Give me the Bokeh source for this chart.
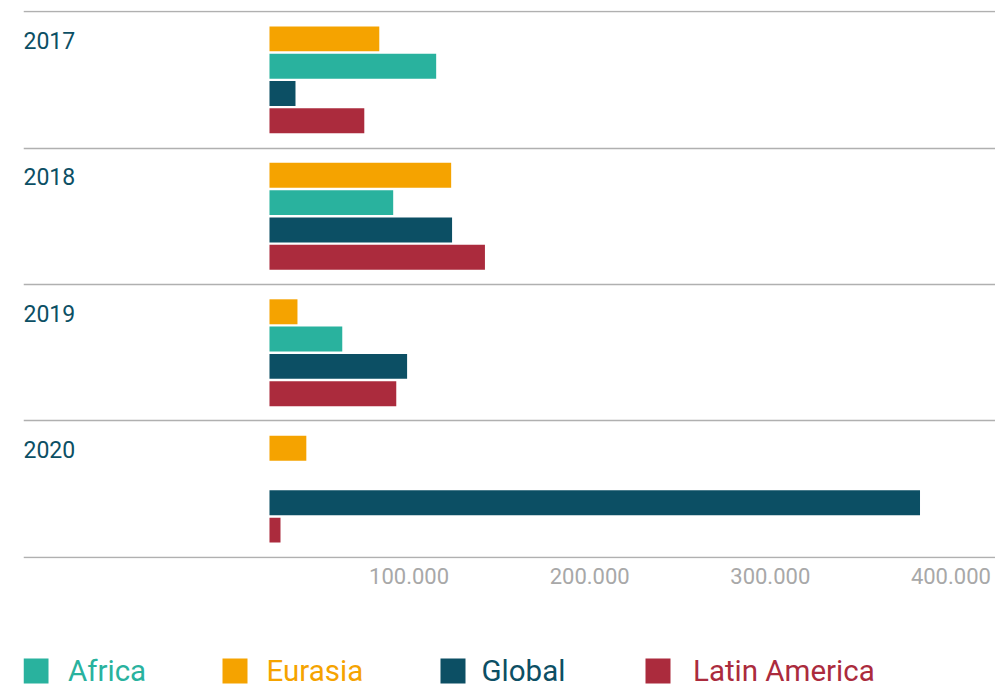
from bokeh.plotting import figure
from bokeh.models import (ColumnDataSource, Range1d, FixedTicker, CustomJSTickFormatter,
                          LinearAxis)
from bokeh.layouts import column
from bokeh.core.properties import value
from bokeh.embed import file_html
from bokeh.resources import INLINE

# ---- data ----
years = ["2017", "2018", "2019", "2020"]
series = ["Eurasia", "Africa", "Global", "Latin America"]   # top-to-bottom order within a year
eurasia = [60800, 100600, 15500, 20400]
africa = [92300, 68500, 40300, 0]
global_ = [14400, 101100, 76200, 360200]
latin = [52500, 119300, 70200, 6100]
tick_values = [100000, 200000, 300000, 400000]

colors = {"Africa": "#29b29e", "Eurasia": "#f5a300", "Global": "#0c4f64", "Latin America": "#ab2b3d"}
values = {"Eurasia": eurasia, "Africa": africa, "Global": global_, "Latin America": latin}
legend_order = ["Africa", "Eurasia", "Global", "Latin America"]

FONT = "Roboto"
X_START, X_END = -136200, 402000
LABEL_SHIFT = 22700   # tick labels sit left of their tick in the original

p = figure(width=995, height=640, output_backend="svg", toolbar_location=None,
           x_range=Range1d(X_START, X_END), y_range=Range1d(len(years) + 0.008, -0.008),
           min_border_left=23, min_border_right=0, min_border_top=10, min_border_bottom=82)
p.outline_line_color = None

for j, s in enumerate(series):
    src = ColumnDataSource(dict(
        y=[i + 0.2 * (j + 1) for i in range(len(years))],
        right=values[s],
    ))
    p.hbar(y="y", left=0, right="right", height=0.183, source=src,
           fill_color=colors[s], line_color=None)

# year labels
ysrc = ColumnDataSource(dict(x=[X_START] * len(years),
                             y=[i + 0.21 for i in range(len(years))], t=years))
p.text(x="x", y="y", text="t", source=ysrc, text_font=value(FONT), text_font_size="23px",
       text_color="#0c4f64", text_baseline="middle", text_align="left")

# axes and grids
p.yaxis.visible = False
p.xaxis.visible = False
p.xgrid.visible = False
p.ygrid.ticker = FixedTicker(ticks=list(range(len(years) + 1)))
p.ygrid.grid_line_color = "#b0b0b0"
p.ygrid.grid_line_width = 1.5

p.extra_x_ranges = {"labels": Range1d(X_START + LABEL_SHIFT, X_END + LABEL_SHIFT)}
xa = LinearAxis(x_range_name="labels")
xa.ticker = FixedTicker(ticks=tick_values)
xa.formatter = CustomJSTickFormatter(code="""
    const s = Math.round(tick).toString();
    return s.replace(/\\B(?=(\\d{3})+(?!\\d))/g, '.');
""")
xa.axis_line_color = None
xa.major_tick_line_color = None
xa.minor_tick_line_color = None
xa.major_tick_out = 0
xa.major_tick_in = 0
xa.major_label_standoff = 9
xa.major_label_text_font = FONT
xa.major_label_text_font_size = "22px"
xa.major_label_text_color = "#a8a8a8"
p.add_layout(xa, "below")

# ---- legend strip (page-like coordinates: x to the right, y downward from strip top) ----
lf = figure(width=995, height=46, output_backend="svg", toolbar_location=None,
            x_range=Range1d(23, 995), y_range=Range1d(46, 0),
            min_border_left=23, min_border_right=0, min_border_top=0, min_border_bottom=0)
lf.outline_line_color = None
lf.xaxis.visible = False
lf.yaxis.visible = False
lf.grid.visible = False

swatch_left = [23, 222, 440, 645]
label_left = [67.5, 266, 481, 692.5]
leg_colors = [colors[s] for s in legend_order]
lf.quad(left=swatch_left, right=[x + 25 for x in swatch_left], top=18, bottom=43,
        fill_color=leg_colors, line_color=None)
lf.text(x=label_left, y=30, text=legend_order, text_color=leg_colors,
        text_font=value(FONT), text_font_size="29.5px",
        text_baseline="middle", text_align="left")

layout = column(p, lf, spacing=0)
open("out.html", "w").write(file_html(layout, INLINE))
